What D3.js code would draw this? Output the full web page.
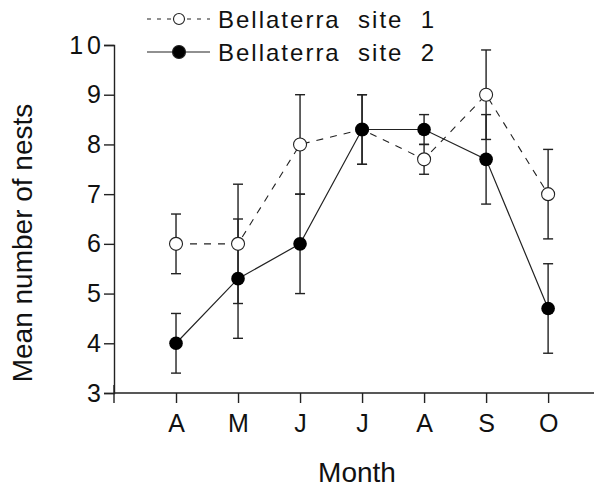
<!DOCTYPE html>
<html>
<head>
<meta charset="utf-8">
<script src="https://cdn.jsdelivr.net/npm/d3@7"></script>
<style>
  body { margin: 0; background: #fff; }
  text { font-family: "Liberation Sans", Arial, Helvetica, sans-serif; fill: #111; }
</style>
</head>
<body>
<svg id="chart" width="594" height="488"></svg>
<script>
// months on the x axis
var months = ["A", "M", "J", "J", "A", "S", "O"];
// site 1 (open circles, dashed) and site 2 (filled circles, solid)
var site1 = [6.0, 6.0, 8.0, 8.3, 7.7, 9.0, 7.0];
var site1Err = [0.6, 1.2, 1.0, 0.7, 0.3, 0.9, 0.9];
var site2 = [4.0, 5.3, 6.0, 8.3, 8.3, 7.7, 4.7];
var site2Err = [0.6, 1.2, 1.0, 0.7, 0.3, 0.9, 0.9];
var yTicks = [3, 4, 5, 6, 7, 8, 9, 10];
var seriesNames = ["Bellaterra  site  1", "Bellaterra  site  2"];

var svg = d3.select("#chart");

var x = d3.scaleLinear().domain([-1, 6.74]).range([114, 594]);
var y = d3.scaleLinear().domain([3, 10]).range([393, 45]);

// y axis
var yAxis = svg.append("g").attr("transform", "translate(114,0)")
  .call(d3.axisLeft(y).tickValues(yTicks).tickSize(10).tickFormat(d3.format("d")));
yAxis.select(".domain").attr("stroke", "#222").attr("stroke-width", 1.4);
yAxis.selectAll(".tick line").attr("stroke", "#222").attr("stroke-width", 1.4);
yAxis.selectAll(".tick text").attr("x", -9).attr("font-size", 25)
  .attr("letter-spacing", "4px").attr("font-family", null);

// x axis
var xAxis = svg.append("g").attr("transform", "translate(0,393)")
  .call(d3.axisBottom(x).tickValues(d3.range(months.length)).tickSize(10).tickPadding(11)
    .tickFormat(function(d) { return months[d]; }));
xAxis.select(".domain").attr("stroke", "#222").attr("stroke-width", 1.4)
  .attr("d", "M114,-8V0H594");
xAxis.selectAll(".tick line").attr("stroke", "#222").attr("stroke-width", 1.4);
xAxis.selectAll(".tick text").attr("font-size", 25).attr("font-family", null);
svg.append("line").attr("x1", 114).attr("x2", 114).attr("y1", 393).attr("y2", 403)
  .attr("stroke", "#222").attr("stroke-width", 1.4);

// axis titles
svg.append("text").attr("x", 357).attr("y", 482).attr("text-anchor", "middle")
  .attr("font-size", 28).text("Month");
svg.append("text").attr("transform", "translate(32,243) rotate(-90)").attr("text-anchor", "middle")
  .attr("font-size", 28).text("Mean number of nests");

var line = d3.line().x(function(d, i) { return x(i); }).y(function(d) { return y(d); });

// connecting lines
svg.append("path").datum(site1).attr("d", line).attr("fill", "none")
  .attr("stroke", "#222").attr("stroke-width", 1.1).attr("stroke-dasharray", "7,7");
svg.append("path").datum(site2).attr("d", line).attr("fill", "none")
  .attr("stroke", "#222").attr("stroke-width", 1.2);

// error bars
function errorBars(vals, errs) {
  var g = svg.append("g").attr("stroke", "#222").attr("stroke-width", 1.4);
  vals.forEach(function(v, i) {
    var lo = y(v - errs[i]), hi = y(v + errs[i]), cx = x(i);
    g.append("line").attr("x1", cx).attr("x2", cx).attr("y1", lo).attr("y2", hi);
    g.append("line").attr("x1", cx - 5).attr("x2", cx + 5).attr("y1", lo).attr("y2", lo);
    g.append("line").attr("x1", cx - 5).attr("x2", cx + 5).attr("y1", hi).attr("y2", hi);
  });
}
errorBars(site1, site1Err);
errorBars(site2, site2Err);

// markers
svg.append("g").selectAll("circle").data(site1).enter().append("circle")
  .attr("cx", function(d, i) { return x(i); }).attr("cy", function(d) { return y(d); })
  .attr("r", 6.5).attr("fill", "#fff").attr("stroke", "#222").attr("stroke-width", 1.1);
svg.append("g").selectAll("circle").data(site2).enter().append("circle")
  .attr("cx", function(d, i) { return x(i); }).attr("cy", function(d) { return y(d); })
  .attr("r", 6.8).attr("fill", "#000");

// legend
var legend = svg.append("g");
[19, 52].forEach(function(ly, k) {
  legend.append("line").attr("x1", 147).attr("x2", 210).attr("y1", ly).attr("y2", ly)
    .attr("stroke", "#222").attr("stroke-width", 1.2)
    .attr("stroke-dasharray", k === 0 ? "4,6" : null);
  legend.append("circle").attr("cx", 179).attr("cy", ly).attr("r", k === 0 ? 5.5 : 6.5)
    .attr("fill", k === 0 ? "#fff" : "#000").attr("stroke", "#222").attr("stroke-width", 1.1);
  legend.append("text").attr("x", 218).attr("y", ly + 9).attr("font-size", 24)
    .attr("letter-spacing", "2px").attr("xml:space", "preserve").style("white-space", "pre")
    .text(seriesNames[k]);
});
</script>
</body>
</html>
